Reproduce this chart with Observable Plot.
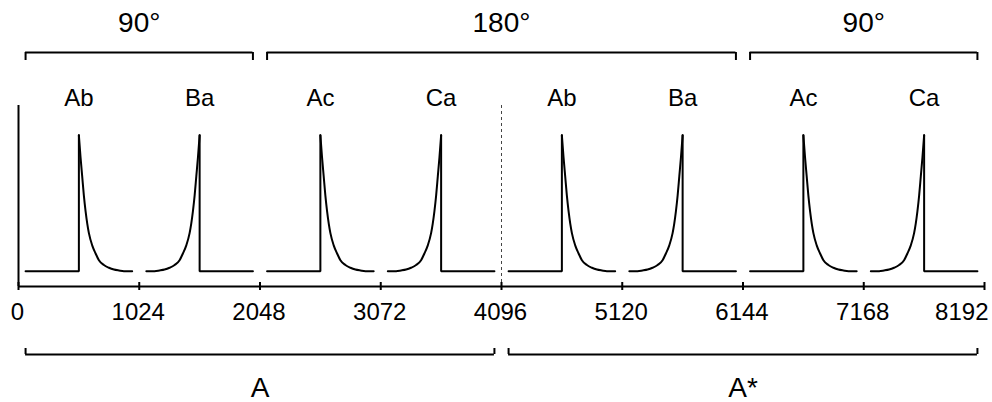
<!DOCTYPE html>
<html>
<head>
<meta charset="utf-8">
<script src="https://cdn.jsdelivr.net/npm/d3@7"></script>
<script src="https://cdn.jsdelivr.net/npm/@observablehq/plot@0.6"></script>
<style>
  html, body { margin: 0; padding: 0; background: #fff; }
  #chart svg { display: block; overflow: visible; }
</style>
</head>
<body>
<div id="chart"></div>
<script>
// ---- data ----
const peakPositions = [512, 1536, 2560, 3584, 4608, 5632, 6656, 7680];
const peakLabels = ["Ab", "Ba", "Ac", "Ca", "Ab", "Ba", "Ac", "Ca"];
const peakShapes = ["decay", "rise", "decay", "rise", "decay", "rise", "decay", "rise"];
// tail profile away from the spike: distance from peak (samples) and relative height
const tailOffsets = [0, 14, 28, 42, 57, 71, 85, 113, 142, 170, 212, 255, 297, 340, 382, 452];
const tailValues  = [1, 0.84, 0.70, 0.56, 0.44, 0.35, 0.28, 0.19, 0.13, 0.08, 0.045, 0.025, 0.012, 0.005, 0, 0];
const xTicks = [0, 1024, 2048, 3072, 4096, 5120, 6144, 7168, 8192];
const dividerX = [4096];
const topStarts = [60, 2108, 6204];
const topEnds = [1988, 6084, 8132];
const topLabels = ["90°", "180°", "90°"];
const bottomStarts = [60, 4156];
const bottomEnds = [4036, 8132];
const bottomLabels = ["A", "A*"];

// ---- build tables ----
const tailLen = tailOffsets[tailOffsets.length - 1];
const flatRows = [];
const tailRows = [];
peakPositions.forEach((p, i) => {
  const dir = peakShapes[i] === "decay" ? 1 : -1;
  flatRows.push({id: i, x: p - dir * tailLen, y: 0});
  flatRows.push({id: i, x: p, y: 0});
  flatRows.push({id: i, x: p, y: 1});
  const pts = tailOffsets.map((o, k) => ({id: i, x: p + dir * o, y: tailValues[k]}));
  pts.sort((a, b) => a.x - b.x);
  tailRows.push(...pts);
});
const peaks = peakPositions.map((p, i) => ({x: p, label: peakLabels[i]}));
const topSpans = topStarts.map((s, i) => ({start: s, end: topEnds[i], mid: (s + topEnds[i]) / 2, label: topLabels[i]}));
const bottomSpans = bottomStarts.map((s, i) => ({start: s, end: bottomEnds[i], mid: (s + bottomEnds[i]) / 2, label: bottomLabels[i]}));
const tickRows = xTicks.map(t => ({x: t, label: String(t)}));

// ---- layout ----
const W = 992, H = 402;
const mTop = 105, mBottom = 116, mLeft = 18, mRight = 8;
const yDomain = [-0.113, 1.22];
const axisY = H - mBottom;
const ink = "#000";
const lw = 2;
const font = "'Liberation Sans', Arial, Helvetica, sans-serif";
const atAxis = () => yDomain[0];

const chart = Plot.plot({
  width: W,
  height: H,
  marginTop: mTop,
  marginBottom: mBottom,
  marginLeft: mLeft,
  marginRight: mRight,
  x: {domain: [0, 8192], axis: null},
  y: {domain: yDomain, axis: null},
  style: {fontFamily: font, color: ink, background: "#fff", overflow: "visible"},
  marks: [
    // left frame line and dashed divider
    Plot.ruleX([0], {stroke: ink, strokeWidth: lw}),
    Plot.ruleX(dividerX, {stroke: "#444", strokeWidth: 1, strokeDasharray: "3,3"}),
    // x axis line and ticks
    Plot.ruleY([yDomain[0]], {stroke: ink, strokeWidth: lw}),
    Plot.ruleX(xTicks, {stroke: ink, strokeWidth: lw, insetTop: axisY - 4 - mTop, insetBottom: -4}),
    Plot.text(tickRows.slice(0, -1), {x: "x", text: "label", frameAnchor: "bottom", lineAnchor: "middle", dy: 26.3, dx: -1, fontSize: 24, fill: ink}),
    Plot.text(tickRows.slice(-1), {x: "x", text: "label", frameAnchor: "bottom", lineAnchor: "middle", dy: 26.3, dx: 4, textAnchor: "end", fontSize: 24, fill: ink}),
    // signal
    Plot.line(flatRows, {x: "x", y: "y", z: "id", stroke: ink, strokeWidth: lw, curve: "linear", strokeLinejoin: "miter"}),
    Plot.line(tailRows, {x: "x", y: "y", z: "id", stroke: ink, strokeWidth: lw, curve: "monotone-x"}),
    // peak labels
    Plot.text(peaks, {x: "x", text: "label", frameAnchor: "top", lineAnchor: "middle", dy: -7, fontSize: 24, fill: ink}),
    // top brackets
    Plot.ruleY(topSpans, {x1: "start", x2: "end", y: atAxis, dy: 52 - axisY, stroke: ink, strokeWidth: lw}),
    Plot.ruleX(topSpans.flatMap(s => [s.start, s.end]), {stroke: ink, strokeWidth: lw, insetTop: 52 - mTop, insetBottom: axisY - 60}),
    Plot.text(topSpans, {x: "mid", text: "label", frameAnchor: "top", lineAnchor: "middle", dy: -82.3, fontSize: 28, fill: ink}),
    // bottom brackets
    Plot.ruleY(bottomSpans, {x1: "start", x2: "end", y: atAxis, dy: 354 - axisY, stroke: ink, strokeWidth: lw}),
    Plot.ruleX(bottomSpans.flatMap(s => [s.start, s.end]), {stroke: ink, strokeWidth: lw, insetTop: 348 - mTop, insetBottom: axisY - 354}),
    Plot.text(bottomSpans, {x: "mid", text: "label", frameAnchor: "bottom", lineAnchor: "middle", dy: 101.3, fontSize: 28, fill: ink})
  ]
});
document.getElementById("chart").appendChild(chart);
</script>
</body>
</html>
